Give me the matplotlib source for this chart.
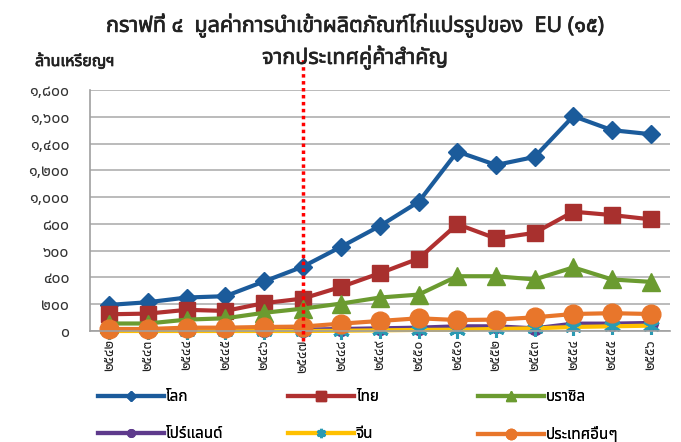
import matplotlib
matplotlib.use('Agg')
import matplotlib.pyplot as plt
import matplotlib.patheffects as pe
from matplotlib import font_manager
from matplotlib.ft2font import FT2Font

# ---------------- data ----------------
years = ['๒๕๔๒', '๒๕๔๓', '๒๕๔๔', '๒๕๔๕', '๒๕๔๖', '๒๕๔๗', '๒๕๔๘', '๒๕๔๙',
         '๒๕๕๐', '๒๕๕๑', '๒๕๕๒', '๒๕๕๓', '๒๕๕๔', '๒๕๕๕', '๒๕๕๖']
world = [195, 215, 250, 260, 370, 480, 630, 785, 965, 1340, 1240, 1300, 1605, 1500, 1470]
thai = [125, 130, 158, 150, 208, 242, 330, 432, 541, 798, 691, 733, 891, 866, 834]
brazil = [56, 56, 85, 95, 136, 167, 205, 250, 272, 409, 409, 385, 475, 385, 367]
poland = [5, 5, 5, 5, 8, 10, 15, 20, 25, 35, 35, 20, 55, 55, 60]
china = [0, 0, 0, 0, 0, 0, 2, 5, 8, 10, 15, 20, 30, 35, 40]
others = [15, 15, 25, 25, 30, 33, 55, 75, 95, 82, 85, 102, 127, 133, 127]
series_names = ['โลก', 'ไทย', 'บราซิล', 'โปร์แลนด์', 'จีน', 'ประเทศอื่นๆ']
y_ticks = [0, 200, 400, 600, 800, 1000, 1200, 1400, 1600, 1800]
y_tick_labels = ['๐', '๒๐๐', '๔๐๐', '๖๐๐', '๘๐๐', '๑,๐๐๐', '๑,๒๐๐', '๑,๔๐๐', '๑,๖๐๐', '๑,๘๐๐']
marker_year_index = 5  # ๒๕๔๗
title1 = 'กราฟที่ ๔  มูลค่าการนำเข้าผลิตภัณฑ์ไก่แปรรูปของ  EU (๑๕)'
title2 = 'จากประเทศคู่ค้าสำคัญ'
unit_label = 'ล้านเหรียญฯ'


def find_thai_family():
    prefs = ['Noto Sans Thai', 'Noto Sans Thai UI', 'Loma', 'Garuda', 'Tlwg Typo',
             'Waree', 'Umpush', 'Kinnari', 'Norasi', 'Sawasdee', 'Laksaman',
             'Tahoma', 'Leelawadee UI', 'Noto Serif Thai', 'Noto Looped Thai']
    names = {f.name for f in font_manager.fontManager.ttflist}
    for p in prefs:
        if p in names:
            return p
    for f in font_manager.fontManager.ttflist:
        try:
            cm = FT2Font(f.fname).get_charmap()
            if 0x0E01 in cm and 0x0E51 in cm:
                return f.name
        except Exception:
            pass
    return None


thai_font = find_thai_family()
fams = ([thai_font] if thai_font else []) + ['DejaVu Sans']
plt.rcParams['font.family'] = fams

W, H = 681, 442
fig = plt.figure(figsize=(W / 100, H / 100), dpi=100)
ax = fig.add_axes([90 / W, 1 - 331 / H, 580 / W, 241 / H])

x = list(range(len(years)))
styles = [
    dict(color='#1B5B9B', marker='D', markersize=9.5, mfc='#1B5B9B', mec='#1B5B9B'),
    dict(color='#B03030', marker='s', markersize=12, mfc='#A8302E', mec='#A8302E'),
    dict(color='#6B9B30', marker='^', markersize=13, mfc='#6B9B30', mec='#6B9B30'),
    dict(color='#5E3A8C', marker='o', markersize=10, mfc='#5E3A8C', mec='#5E3A8C'),
    dict(color='#FFC000', marker=(6, 2, 0), markersize=12, mfc='#2A9AB3', mec='#2A9AB3', mew=2.2),
    dict(color='#E8762B', marker='o', markersize=13.5, mfc='#E8762B', mec='#E8762B'),
]
handles = []
for vals, name, st in zip([world, thai, brazil, poland, china, others], series_names, styles):
    h, = ax.plot(x, vals, lw=3, label=name, clip_on=False, **st)
    handles.append(h)

ax.set_xlim(-0.5, len(years) - 0.5)
ax.set_ylim(0, 1800)
ax.set_yticks(y_ticks)
ax.set_yticklabels(y_tick_labels, fontsize=11.5, color='#333333')
ax.set_xticks(x)
ax.set_xticklabels(years, rotation=90, fontsize=10, color='#222222', va='top', ha='center')
ax.tick_params(axis='y', length=0, pad=15)
ax.tick_params(axis='x', length=0, pad=6)
ax.grid(axis='y', color='#B5B5B5', lw=1.3)
ax.set_axisbelow(True)
for s in ['top', 'right']:
    ax.spines[s].set_visible(False)
ax.spines['left'].set_color('#A0A0A0')
ax.spines['bottom'].set_color('#A0A0A0')
ax.spines['left'].set_linewidth(1.2)
ax.spines['bottom'].set_linewidth(1.2)

# red dotted marker line
ax.axvline(marker_year_index, ymin=-0.04, ymax=1.13, color='#FF0000', lw=2.5,
           linestyle=(0, (1, 1)), clip_on=False, zorder=10)

bold = [pe.withStroke(linewidth=0.5, foreground='#222222')]
fig.text(355 / W, 1 - 25 / H, title1, ha='center', va='center', fontsize=15.5,
         color='#222222', path_effects=bold)
fig.text(355 / W, 1 - 57 / H, title2, ha='center', va='center', fontsize=15.5,
         color='#222222', path_effects=bold)
fig.text(35 / W, 1 - 62 / H, unit_label, ha='left', va='center', fontsize=11.5,
         color='#222222', path_effects=bold)

cols = [(0, 3), (1, 4), (2, 5)]
xs = [98, 288, 478]
for (i, j), xp in zip(cols, xs):
    leg = fig.legend([handles[i], handles[j]], [series_names[i], series_names[j]],
                     loc='upper left', bbox_to_anchor=(xp / W, 1 - 390 / H),
                     frameon=False, fontsize=11, handlelength=4.3, handletextpad=0.15,
                     labelspacing=1.45, borderpad=0, borderaxespad=0, markerscale=0.55)
    fig.add_artist(leg)

fig.savefig('out.png', dpi=100)
